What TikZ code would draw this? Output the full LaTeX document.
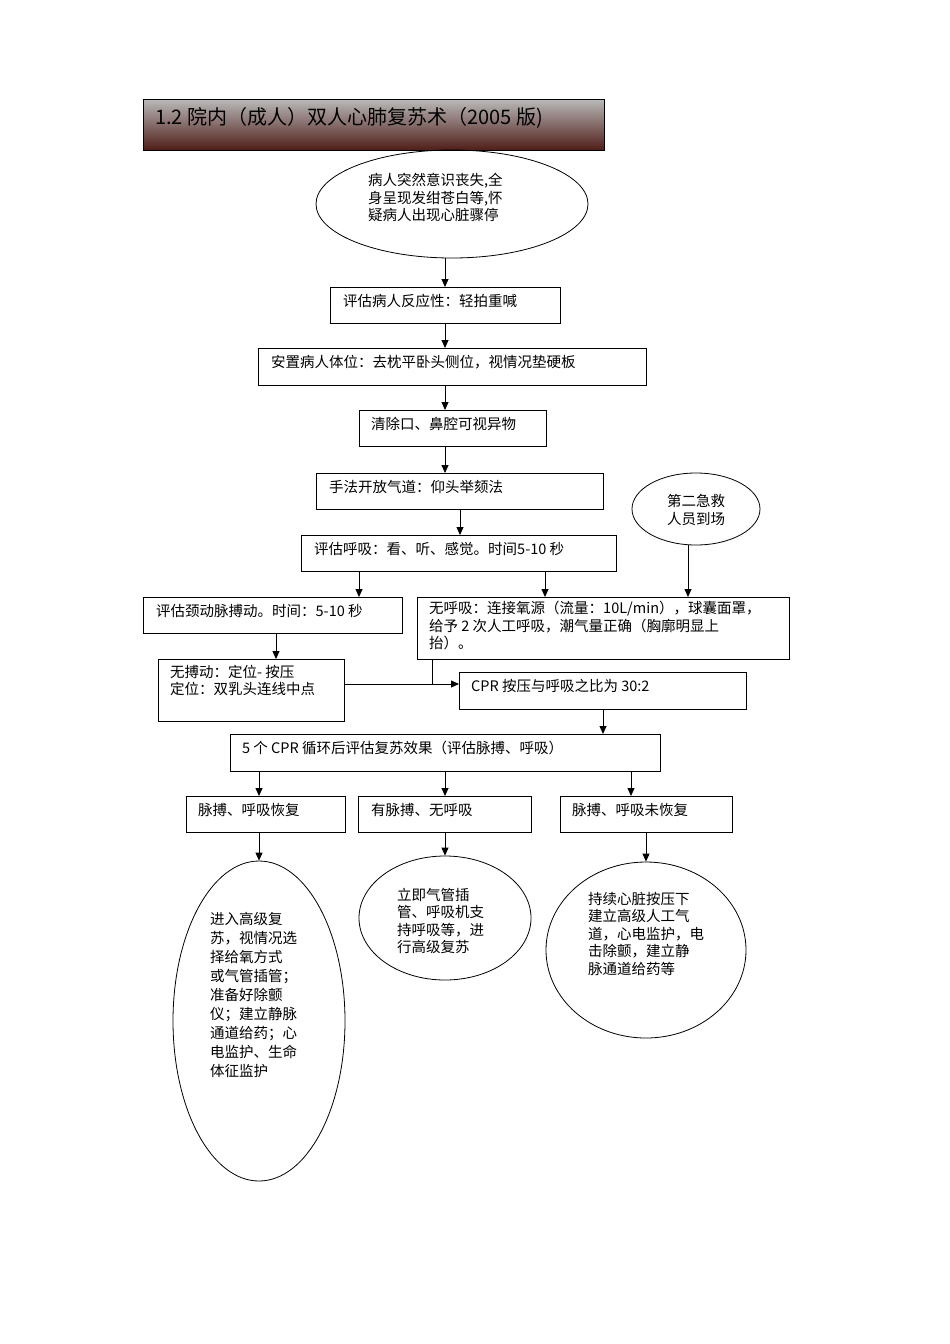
\documentclass[tikz,border=0pt]{standalone}
\usepackage{fontspec}
\setmainfont{Noto Sans CJK SC}
\usetikzlibrary{shapes.geometric,arrows.meta}
\tikzset{
 bx/.style={draw,thick,rectangle,anchor=north west,inner sep=0pt},
 el/.style={draw,thick,ellipse,inner sep=0pt},
 tx/.style={anchor=north west,inner sep=0pt,align=left,font=\fontsize{14.5}{17.5}\selectfont},
 ar/.style={thick,-{Triangle[length=8pt,width=7pt]}},
 ln/.style={thick}
}
\newcommand{\mybox}[5]{\node[bx,minimum width=#4pt,minimum height=#5pt] (#1) at (#2,#3) {};}
\begin{document}
\begin{tikzpicture}[x=1pt,y=-1pt]
\useasboundingbox (0,0) rectangle (950,1344);
\definecolor{tbr}{RGB}{80,30,25}
\shade[top color=gray!55,bottom color=tbr] (143,99) rectangle (604,150);
\node[bx,minimum width=461pt,minimum height=51pt] (title) at (143,99) {};
\node[anchor=west,inner sep=0pt,font=\fontsize{20}{22}\selectfont] (tt) at (155,118) {1.2 院内（成人）双人心肺复苏术（2005 版)};
\node[el,minimum width=272pt,minimum height=108pt] (e1) at (452,204) {};
\node[tx] (e1t) at (368,173) {病人突然意识丧失,全\\身呈现发绀苍白等,怀\\疑病人出现心脏骤停};
\mybox{b2}{330}{287}{230}{36}\node[tx] at (343,294) {评估病人反应性：轻拍重喊};
\mybox{b3}{258}{348}{388}{37}\node[tx] at (271,355) {安置病人体位：去枕平卧头侧位，视情况垫硬板};
\mybox{b4}{359}{410}{187}{36}\node[tx] at (371,417) {清除口、鼻腔可视异物};
\mybox{b5}{316}{473}{287}{36}\node[tx] at (329,480) {手法开放气道：仰头举颏法};
\node[el,minimum width=128pt,minimum height=72pt] (e2) at (696,509) {};
\node[tx,align=center,anchor=center] at (696,510) {第二急救\\人员到场};
\mybox{b6}{301}{535}{315}{36}\node[tx] at (314,542) {评估呼吸：看、听、感觉。时间5-10 秒};
\mybox{b7}{143}{597}{259}{36}\node[tx] at (156,604) {评估颈动脉搏动。时间：5-10 秒};
\mybox{b8}{417}{597}{372}{62}\node[tx] at (429,601) {无呼吸：连接氧源（流量：10L/min），球囊面罩，\\给予 2 次人工呼吸，潮气量正确（胸廓明显上\\抬）。};
\mybox{b9}{158}{659}{186}{62}\node[tx] at (170,665) {无搏动：定位- 按压\\定位：双乳头连线中点};
\mybox{b10}{459}{672}{287}{37}\node[tx] at (471,679) {CPR 按压与呼吸之比为 30:2};
\mybox{b11}{230}{734}{430}{37}\node[tx] at (242,741) {5 个 CPR 循环后评估复苏效果（评估脉搏、呼吸）};
\mybox{c1}{186}{796}{159}{36}\node[tx] at (198,803) {脉搏、呼吸恢复};
\mybox{c2}{358}{796}{173}{36}\node[tx] at (371,803) {有脉搏、无呼吸};
\mybox{c3}{560}{796}{172}{36}\node[tx] at (572,803) {脉搏、呼吸未恢复};
\node[el,minimum width=172pt,minimum height=320pt] (d1) at (259,1021) {};
\node[tx,font=\fontsize{14.5}{19}\selectfont] at (210,912) {进入高级复\\苏，视情况选\\择给氧方式\\或气管插管；\\准备好除颤\\仪；建立静脉\\通道给药；心\\电监护、生命\\体征监护};
\node[el,minimum width=172pt,minimum height=124pt] (d2) at (445,918) {};
\node[tx] at (397,888) {立即气管插\\管、呼吸机支\\持呼吸等，进\\行高级复苏};
\node[el,minimum width=200pt,minimum height=176pt] (d3) at (646,950) {};
\node[tx] at (588,892) {持续心脏按压下\\建立高级人工气\\道，心电监护，电\\击除颤，建立静\\脉通道给药等};
\draw[ar] (445,258) -- (b2.north -| 445,0);
\draw[ar] (b2.south -| 445,0) -- (b3.north -| 445,0);
\draw[ar] (b3.south -| 445,0) -- (b4.north -| 445,0);
\draw[ar] (b4.south -| 445,0) -- (b5.north -| 445,0);
\draw[ar] (b5.south -| 460,0) -- (b6.north -| 460,0);
\draw[ar] (b6.south -| 359,0) -- (b7.north -| 359,0);
\draw[ar] (b6.south -| 545,0) -- (b8.north -| 545,0);
\draw[ar] (e2.south -| 688,0) -- (b8.north -| 688,0);
\draw[ar] (b7.south -| 276,0) -- (b9.north -| 276,0);
\coordinate (j) at (432,684);
\draw[ln] (b8.south -| j) -- (j);
\draw[ar] (b9.east |- j) -- (b10.west |- j);
\draw[ar] (b10.south -| 603,0) -- (b11.north -| 603,0);
\draw[ar] (b11.south -| 259,0) -- (c1.north -| 259,0);
\draw[ar] (b11.south -| 445,0) -- (c2.north -| 445,0);
\draw[ar] (b11.south -| 631,0) -- (c3.north -| 631,0);
\draw[ar] (c1.south -| 259,0) -- (d1.north);
\draw[ar] (c2.south -| 445,0) -- (d2.north);
\draw[ar] (c3.south -| 646,0) -- (d3.north);
\end{tikzpicture}
\end{document}
